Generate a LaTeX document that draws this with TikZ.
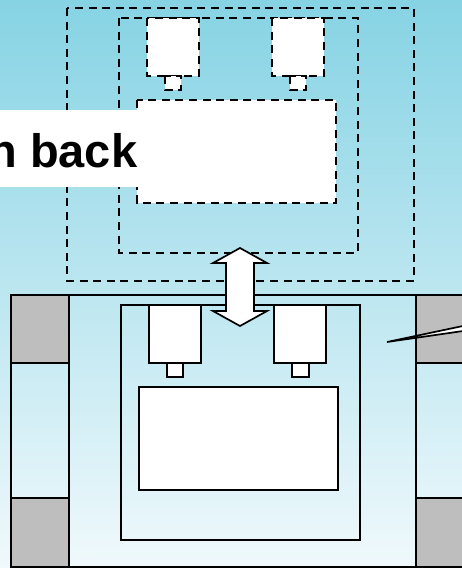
\documentclass[tikz,border=0pt]{standalone}
\usepackage{fontspec}
\setmainfont{Liberation Sans}
\definecolor{bgtop}{HTML}{86D3E4}
\definecolor{bgbot}{HTML}{F0F9FC}
\definecolor{blockgrey}{HTML}{BEBEBE}
\tikzset{
  solidbox/.style={draw=black,line width=1.7pt,fill=white},
  framebox/.style={draw=black,line width=1.7pt},
  greybox/.style={draw=black,line width=1.7pt,fill=blockgrey},
  ghostfill/.style={fill=white},
  ghostbox/.style={draw=black,line width=1.7pt,dash pattern=on 8pt off 5.6pt},
}
\begin{document}
\begin{tikzpicture}[x=1pt,y=-1pt]
\useasboundingbox (0,0) rectangle (462,568);
\shade[top color=bgtop,bottom color=bgbot] (0,0) rectangle (462,568);
% upper, dashed
\draw[ghostbox] (67,8) rectangle (414,281);
\draw[ghostbox] (119,18) rectangle (358,253);
\fill[ghostfill] (147,18) rectangle (199,76);
\draw[ghostbox] (147,18) rectangle (199,76);
\fill[ghostfill] (165,76) rectangle (181,90);
\draw[ghostbox] (165,76) rectangle (181,90);
\fill[ghostfill] (272,18) rectangle (324,76);
\draw[ghostbox] (272,18) rectangle (324,76);
\fill[ghostfill] (290,76) rectangle (306,90);
\draw[ghostbox] (290,76) rectangle (306,90);
\fill[ghostfill] (137,100) rectangle (336,203);
\draw[ghostbox] (137,100) rectangle (336,203);
% lower, solid
\draw[framebox] (69,295) -- (416,295);
\draw[framebox] (11,567) -- (462,567);
\draw[framebox] (121,305) rectangle (360,540);
\draw[solidbox] (149,305) rectangle (201,363);
\draw[solidbox] (167,363) rectangle (183,377);
\draw[solidbox] (274,305) rectangle (326,363);
\draw[solidbox] (292,363) rectangle (309,377);
\draw[solidbox] (139,387) rectangle (338,490);
% side columns
\draw[greybox] (11,295) rectangle (69,363);
\draw[framebox] (11,363) rectangle (69,498);
\draw[greybox] (11,498) rectangle (69,567);
\draw[greybox] (416,295) rectangle (470,363);
\draw[framebox] (416,363) rectangle (470,498);
\draw[greybox] (416,498) rectangle (470,567);
% double arrow
\draw[solidbox,line join=miter]
  (240,248) -- (267,263) -- (254,263) -- (254,311) -- (267,311)
  -- (240,326) -- (213,311) -- (226,311) -- (226,263) -- (213,263) -- cycle;
% callout
\draw[solidbox] (387,342) -- (470,324.5) -- (470,330) -- cycle;
% banner
\fill[white] (0,110) rectangle (138.2,187);
\node[anchor=base east,inner sep=0pt,font=\bfseries,text=black] (banner) at (137.5,167)
  {\fontsize{47pt}{50pt}\selectfont n back};
\end{tikzpicture}
\end{document}
